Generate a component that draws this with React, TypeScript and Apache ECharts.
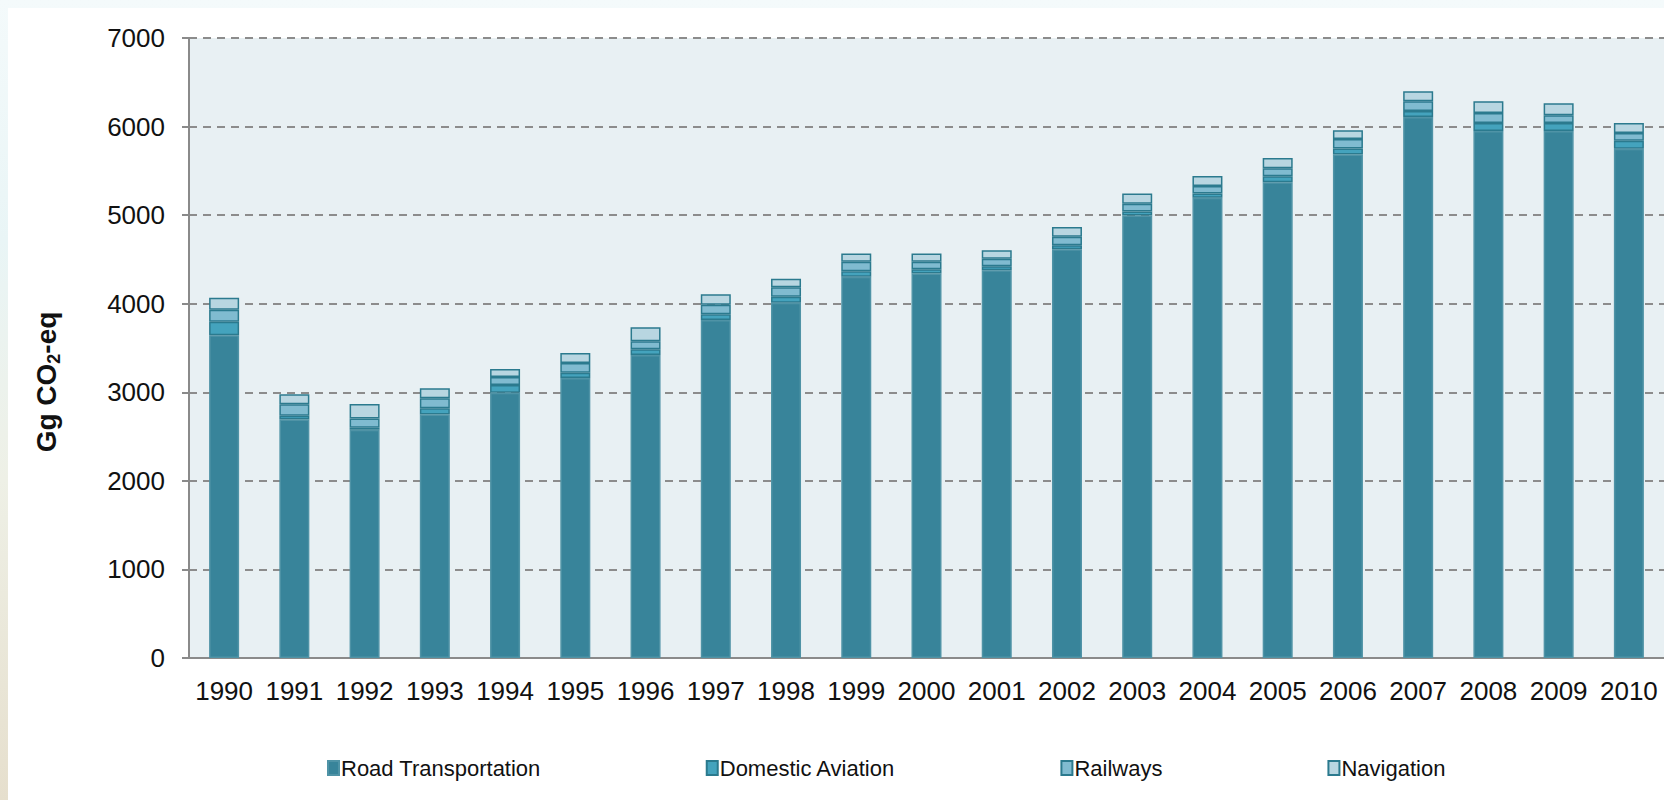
import React, { useEffect, useRef } from "react";
import * as echarts from "echarts";

const years = ["1990","1991","1992","1993","1994","1995","1996","1997","1998","1999","2000","2001","2002","2003","2004","2005","2006","2007","2008","2009","2010"];
const roadTransportation = [3645,2694,2577,2750,2996,3161,3422,3816,4011,4305,4340,4378,4615,4996,5195,5370,5684,6107,5951,5951,5749];
const domesticAviation = [151,41,22,69,86,60,64,64,68,61,49,46,46,46,49,69,68,68,89,89,90];
const railways = [136,129,106,113,91,110,91,109,106,108,85,84,95,88,84,91,109,112,112,89,89];
const navigation = [136,113,163,113,89,113,158,117,97,92,92,95,111,114,114,115,98,112,135,134,111];

const FONT = "'Liberation Sans', Arial, sans-serif";

export default function App() {
  const ref = useRef<HTMLDivElement>(null);
  useEffect(() => {
    if (!ref.current) return;
    const chart = echarts.init(ref.current, null, { renderer: "svg" });
    const mk = (name: string, data: number[], color: string, border: string) => ({
      name,
      type: "bar",
      stack: "total",
      data,
      barWidth: 30,
      itemStyle: { color, borderColor: border, borderWidth: 1.5 },
    });
    chart.setOption({
      animation: false,
      backgroundColor: "#ffffff",
      textStyle: { fontFamily: FONT },
      grid: {
        left: 181,
        right: 0,
        top: 30,
        bottom: 142,
        show: true,
        backgroundColor: "#e8f0f3",
        borderWidth: 0,
      },
      legend: {
        left: 314,
        top: 744,
        itemGap: 165,
        itemWidth: 11,
        itemHeight: 14,
        icon: "rect",
        textStyle: { fontSize: 22, color: "#111", fontFamily: FONT, padding: [0, 0, 0, -3] },
        data: ["Road Transportation", "Domestic Aviation", "Railways", "Navigation"],
      },
      xAxis: {
        type: "category",
        data: years,
        axisLine: { lineStyle: { color: "#8a8a8a", width: 2 } },
        axisTick: { show: false },
        axisLabel: { interval: 0, fontSize: 26, color: "#111", margin: 20, fontFamily: FONT },
      },
      yAxis: {
        type: "value",
        min: 0,
        max: 7000,
        interval: 1000,
        axisLine: { show: true, lineStyle: { color: "#8a8a8a", width: 2 } },
        axisTick: { show: true, length: 7, lineStyle: { color: "#8a8a8a", width: 2 } },
        axisLabel: { fontSize: 26, color: "#111", margin: 24, fontFamily: FONT, formatter: (v: number) => String(v) },
        splitLine: { show: true, lineStyle: { color: "#8c8c8c", width: 2, type: [8, 6] } },
      },
      graphic: [
        {
          type: "text",
          x: 38,
          y: 374,
          rotation: Math.PI / 2,
          style: {
            text: "{a|Gg CO}{b|2}{a|-eq}",
            align: "center",
            verticalAlign: "middle",
            fill: "#111",
            rich: {
              a: { fontSize: 28, fontWeight: "bold", fontFamily: FONT, lineHeight: 34, fill: "#111" },
              b: { fontSize: 18, fontWeight: "bold", fontFamily: FONT, lineHeight: 20, verticalAlign: "bottom", fill: "#111" },
            },
          },
        },
      ],
      series: [
        mk("Road Transportation", roadTransportation, "#38849a", "#4f93a6"),
        mk("Domestic Aviation", domesticAviation, "#44a3bd", "#2b7a8e"),
        mk("Railways", railways, "#80bbd0", "#2b7a8e"),
        mk("Navigation", navigation, "#b8d6e1", "#2b7a8e"),
      ],
    });
    return () => chart.dispose();
  }, []);

  return (
    <div
      style={{
        position: "fixed",
        left: 0,
        top: 0,
        width: 1664,
        height: 800,
        overflow: "hidden",
        background: "linear-gradient(180deg, #f4fafb 0%, #e9f5f6 30%, #eef0e6 60%, #e6dfcd 100%)",
      }}
    >
      <div
        style={{ position: "absolute", left: 8, top: 8, width: 1656, height: 792, background: "#fff" }}
        ref={ref}
      />
    </div>
  );
}
